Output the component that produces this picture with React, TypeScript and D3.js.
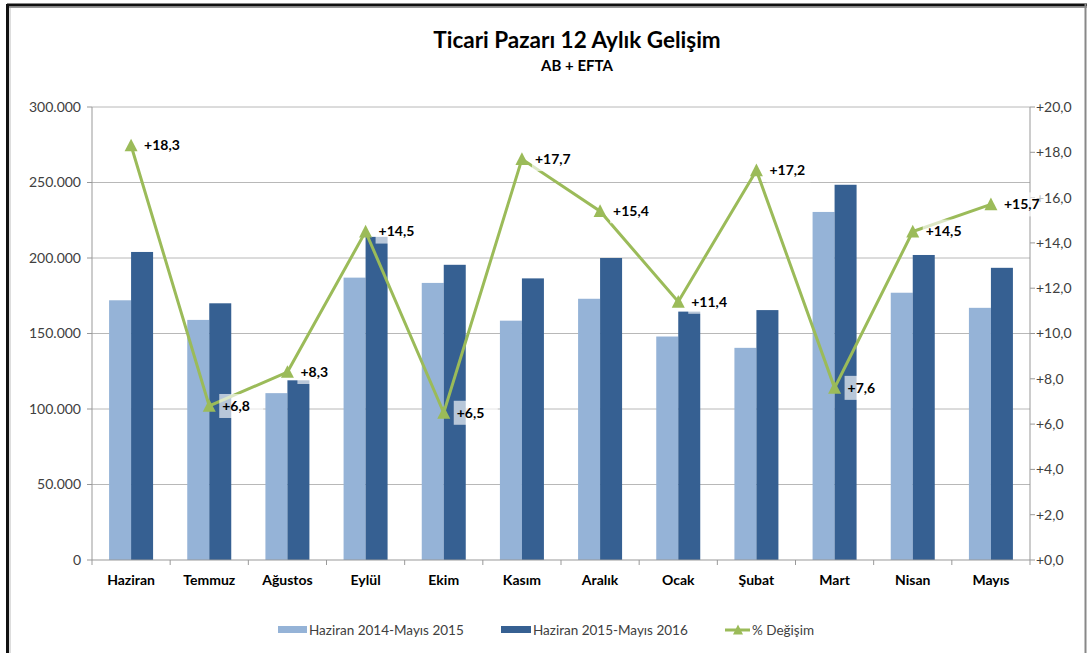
import React from "react";
import * as d3 from "d3";

const months = ["Haziran", "Temmuz", "Ağustos", "Eylül", "Ekim", "Kasım", "Aralık", "Ocak", "Şubat", "Mart", "Nisan", "Mayıs"];
const prevYear = [172000, 159000, 110500, 187000, 183500, 158500, 173000, 148000, 140500, 230500, 177000, 167000];
const currYear = [204000, 170000, 119000, 214000, 195500, 186500, 200000, 164500, 165500, 248500, 202000, 193500];
const change = [18.3, 6.8, 8.3, 14.5, 6.5, 17.7, 15.4, 11.4, 17.2, 7.6, 14.5, 15.7];
const leftTicks = [0, 50000, 100000, 150000, 200000, 250000, 300000];
const rightTicks = [0, 2, 4, 6, 8, 10, 12, 14, 16, 18, 20];

const W = 1087;
const H = 653;
const plot = { left: 92, right: 1030, top: 107, bottom: 560 };
const font = "Lato, 'Open Sans', sans-serif";
const light = "#95b3d7";
const dark = "#366092";
const green = "#9bbb59";

const fmtLeft = (v: number) => (v === 0 ? "0" : d3.format(",")(v).replace(/,/g, "."));
const fmtRight = (v: number) => "+" + v.toFixed(1).replace(".", ",");

function Triangle({ x, y, s = 13 }: { x: number; y: number; s?: number }) {
  const h = s * 0.9;
  return <path d={`M${x},${y - h / 2 - 1}L${x + s / 2},${y + h / 2}L${x - s / 2},${y + h / 2}Z`} fill={green} />;
}

export default function App() {
  const x = d3.scaleBand().domain(months).range([plot.left, plot.right]).paddingInner(0).paddingOuter(0);
  const bw = 22;
  const yL = d3.scaleLinear().domain([0, 300000]).range([plot.bottom, plot.top]);
  const yR = d3.scaleLinear().domain([0, 20]).range([plot.bottom, plot.top]);
  const cx = (m: string) => (x(m) as number) + x.bandwidth() / 2;

  const line = d3
    .line<number>()
    .x((_, i) => cx(months[i]))
    .y((d) => yR(d));

  return (
    <svg width={W} height={H} style={{ position: "absolute", left: 0, top: 0, background: "#fff" }} fontFamily={font}>
      {/* frame */}
      <line x1={7} x2={W} y1={5} y2={5} stroke="#111" strokeWidth={3} />
      <line x1={7} x2={W} y1={7.5} y2={7.5} stroke="#999" strokeWidth={1} />
      <line x1={7.5} x2={7.5} y1={4} y2={H} stroke="#111" strokeWidth={3} />
      <line x1={10} x2={10} y1={8} y2={H} stroke="#bbb" strokeWidth={1} />
      <line x1={1085.5} x2={1085.5} y1={4} y2={H} stroke="#888" strokeWidth={2} />

      <text x={577} y={48} textAnchor="middle" fontSize={22.5} fontWeight={700} fill="#000">
        Ticari Pazarı 12 Aylık Gelişim
      </text>
      <text x={577} y={71} textAnchor="middle" fontSize={15} fontWeight={700} fill="#000">
        AB + EFTA
      </text>

      {/* gridlines */}
      {leftTicks.slice(1).map((t) => (
        <line key={t} x1={plot.left} x2={plot.right} y1={yL(t)} y2={yL(t)} stroke="#b8b8b8" strokeWidth={1} />
      ))}

      {/* left axis */}
      <line x1={plot.left} x2={plot.left} y1={plot.top} y2={plot.bottom} stroke="#999" />
      {leftTicks.map((t) => (
        <g key={t}>
          <line x1={plot.left - 5} x2={plot.left} y1={yL(t)} y2={yL(t)} stroke="#999" />
          <text x={81} y={yL(t)} dy="0.35em" textAnchor="end" fontSize={14} fill="#404040">
            {fmtLeft(t)}
          </text>
        </g>
      ))}

      {/* right axis */}
      <line x1={plot.right} x2={plot.right} y1={plot.top} y2={plot.bottom} stroke="#999" />
      {rightTicks.map((t) => (
        <g key={t}>
          <line x1={plot.right} x2={plot.right + 5} y1={yR(t)} y2={yR(t)} stroke="#999" />
          <text x={1036} y={yR(t)} dy="0.35em" textAnchor="start" fontSize={14} fill="#404040">
            {fmtRight(t)}
          </text>
        </g>
      ))}

      {/* bars */}
      {months.map((m, i) => (
        <g key={m}>
          <rect x={cx(m) - bw} y={yL(prevYear[i])} width={bw} height={plot.bottom - yL(prevYear[i])} fill={light} />
          <rect x={cx(m)} y={yL(currYear[i])} width={bw} height={plot.bottom - yL(currYear[i])} fill={dark} />
        </g>
      ))}

      {/* x axis */}
      <line x1={plot.left} x2={plot.right} y1={plot.bottom} y2={plot.bottom} stroke="#999" />
      {months.map((m, i) => (
        <g key={m}>
          <line x1={x(m) as number} x2={x(m) as number} y1={plot.bottom} y2={plot.bottom + 5} stroke="#999" />
          {i === months.length - 1 && (
            <line x1={plot.right} x2={plot.right} y1={plot.bottom} y2={plot.bottom + 5} stroke="#999" />
          )}
          <text x={cx(m)} y={585} textAnchor="middle" fontSize={14} fontWeight={700} fill="#000">
            {m}
          </text>
        </g>
      ))}

      {/* change line */}
      <path d={line(change) as string} fill="none" stroke={green} strokeWidth={3} />
      {change.map((v, i) => (
        <Triangle key={i} x={cx(months[i])} y={yR(v)} />
      ))}

      {/* data labels with translucent background */}
      {change.map((v, i) => {
        const px = cx(months[i]);
        const py = yR(v);
        return (
          <g key={i}>
            <rect x={px + 10} y={py - 12} width={44} height={24} fill="#fff" opacity={0.65} />
            <text x={px + 13} y={py} dy="0.35em" fontSize={14} fontWeight={700} fill="#000">
              {fmtRight(v)}
            </text>
          </g>
        );
      })}

      {/* legend */}
      <rect x={278} y={626} width={29} height={7} fill={light} />
      <text x={309} y={630} dy="0.35em" fontSize={13.5} fill="#404040">
        Haziran 2014-Mayıs 2015
      </text>
      <rect x={501} y={626} width={30} height={7} fill={dark} />
      <text x={533} y={630} dy="0.35em" fontSize={13.5} fill="#404040">
        Haziran 2015-Mayıs 2016
      </text>
      <line x1={725} x2={750} y1={630} y2={630} stroke={green} strokeWidth={3} />
      <Triangle x={738} y={630} s={10} />
      <text x={752} y={630} dy="0.35em" fontSize={13.5} fill="#404040">
        % Değişim
      </text>
    </svg>
  );
}
